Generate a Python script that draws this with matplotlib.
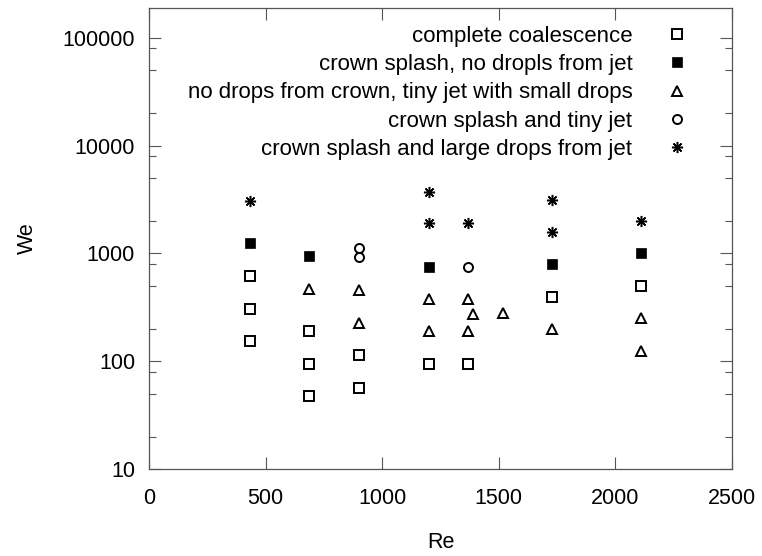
import matplotlib
matplotlib.use('Agg')
from matplotlib import pyplot as plt
from matplotlib import ticker

plt.rcParams['font.family'] = ['Liberation Sans', 'DejaVu Sans']

# regime map data: Re vs We for each observed outcome
coal_re = [433, 433, 433, 685, 685, 685, 900, 900, 1202, 1369, 1730, 2108]
coal_we = [617, 305, 154, 189, 95, 47.5, 113, 57, 94, 94, 397, 499]

crown_re = [433, 685, 1202, 1730, 2108]
crown_we = [1241, 946, 753, 792, 1002]

tiny_re = [685, 900, 900, 1202, 1202, 1369, 1369, 1391, 1519, 1730, 2108, 2108]
tiny_we = [468, 455, 228, 378, 191, 378, 191, 272, 278, 198, 250, 125]

splash_re = [900, 900, 1369]
splash_we = [1122, 916, 753]

large_re = [433, 1202, 1202, 1369, 1730, 1730, 2108]
large_we = [3063, 3736, 1902, 1902, 3130, 1589, 2011]

labels = ['complete coalescence',
          'crown splash, no dropls from jet',
          'no drops from crown, tiny jet with small drops',
          'crown splash and tiny jet',
          'crown splash and large drops from jet']

fs = 15.5
frame_col = '#555555'

fig = plt.figure(figsize=(7.62, 5.56), dpi=100)
ax = fig.add_axes([149/762., 87/556., 583/762., 461.3/556.])

ax.plot(coal_re, coal_we, 's', ls='none', ms=6.6, mfc='none', mec='k', mew=1.4, label=labels[0])
ax.plot(crown_re, crown_we, 's', ls='none', ms=7.2, mfc='k', mec='k', mew=0.5, label=labels[1])
ax.plot(tiny_re, tiny_we, '^', ls='none', ms=7.0, mfc='none', mec='k', mew=1.4, label=labels[2])
ax.plot(splash_re, splash_we, 'o', ls='none', ms=6.5, mfc='none', mec='k', mew=1.4, label=labels[3])
ax.plot(large_re, large_we, marker=(8, 2, 0), ls='none', ms=8, mec='k', mew=1.1, label=labels[4])

ax.set_xlim(0, 2500)
ax.set_yscale('log')
ax.set_ylim(10, 190000)

ax.xaxis.set_major_locator(ticker.MultipleLocator(500))
ax.xaxis.set_major_formatter(ticker.FuncFormatter(lambda v, p: '%d' % v))
ax.yaxis.set_major_locator(ticker.FixedLocator([10, 100, 1000, 10000, 100000]))
ax.yaxis.set_major_formatter(ticker.FuncFormatter(lambda v, p: '%d' % round(v)))
ax.yaxis.set_minor_locator(ticker.LogLocator(base=10, subs=[2, 5, 8], numticks=20))
ax.yaxis.set_minor_formatter(ticker.NullFormatter())

ax.tick_params(axis='both', which='major', direction='in', length=8.6, width=0.8,
               color=frame_col, labelsize=fs, top=True, right=True)
ax.tick_params(axis='y', which='minor', direction='in', length=5, width=0.8,
               color=frame_col, right=True)
ax.tick_params(axis='x', which='major', pad=14)
ax.tick_params(axis='y', which='major', pad=10)
for sp in ax.spines.values():
	sp.set_color(frame_col)
	sp.set_linewidth(0.9)

ax.set_xlabel('Re', fontsize=fs, labelpad=16)
ax.set_ylabel('We', fontsize=fs, labelpad=18)

l = ax.legend(loc='upper right', bbox_to_anchor=(0.9245, 0.961), frameon=False,
              markerfirst=False, fontsize=16, handlelength=1.0, handletextpad=1.5,
              labelspacing=0.33, borderpad=0, borderaxespad=0, numpoints=1)

plt.savefig('out.png', dpi=100)
